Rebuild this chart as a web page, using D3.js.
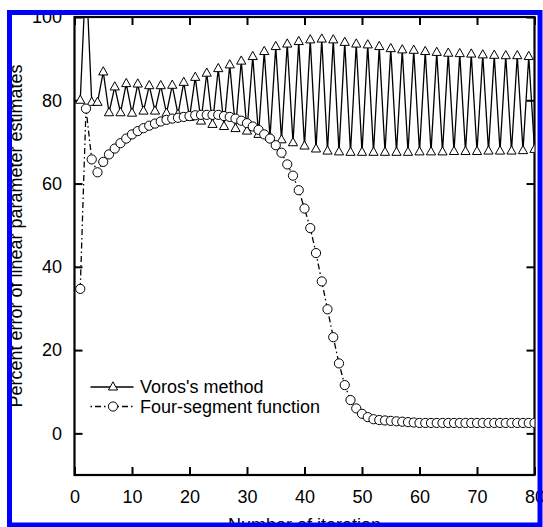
<!DOCTYPE html>
<html>
<head>
<meta charset="utf-8">
<script src="https://cdn.jsdelivr.net/npm/d3@7"></script>
<style>
  html, body { margin: 0; padding: 0; background: #fff; }
  svg { display: block; }
  text { font-family: "Liberation Sans", Arial, sans-serif; fill: #000; }
</style>
</head>
<body>
<svg id="chart" width="543" height="527"></svg>
<script>
// ---------- data ----------
const iterations = [1,2,3,4,5,6,7,8,9,10,11,12,13,14,15,16,17,18,19,20,
  21,22,23,24,25,26,27,28,29,30,31,32,33,34,35,36,37,38,39,40,
  41,42,43,44,45,46,47,48,49,50,51,52,53,54,55,56,57,58,59,60,
  61,62,63,64,65,66,67,68,69,70,71,72,73,74,75,76,77,78,79,80];

const vorosValues = [80.0,111,79.5,79.5,86.8,77.0,83.2,77.0,84.0,76.9,
  83.9,77.4,83.5,77.4,83.5,76.9,83.6,76.6,84.3,75.9,
  85.5,75.0,86.5,74.2,87.6,73.7,88.5,73.2,89.4,72.6,
  90.5,71.8,91.7,71.1,92.9,70.5,93.5,69.8,94.1,69.0,
  94.5,68.3,94.7,67.8,94.5,67.6,93.9,67.5,93.5,67.5,
  93.3,67.5,92.9,67.5,92.4,67.5,92.1,67.5,92.0,67.6,
  91.7,67.6,91.5,67.6,91.3,67.7,91.2,67.7,91.1,67.7,
  90.9,67.8,90.8,67.8,90.7,67.8,90.7,67.9,90.5,68.2];

const fourSegValues = [34.7,78.0,65.8,62.7,65.2,67.0,68.4,69.7,70.8,71.8,
  72.6,73.3,73.9,74.4,74.9,75.3,75.6,75.8,76.0,76.2,
  76.4,76.5,76.5,76.5,76.5,76.2,76.0,75.6,75.1,74.5,
  73.7,72.9,71.8,70.8,69.2,67.4,64.6,61.9,58.4,54.0,
  49.3,43.3,36.5,29.8,23.1,16.8,11.6,8.0,6.0,4.7,
  3.9,3.4,3.2,3.1,3.0,2.9,2.8,2.7,2.6,2.5,
  2.5,2.5,2.5,2.5,2.5,2.5,2.5,2.5,2.5,2.5,
  2.5,2.5,2.5,2.5,2.5,2.5,2.5,2.5,2.5,2.5];

const xTicks = [0,10,20,30,40,50,60,70,80];
const yTicks = [0,20,40,60,80,100];
const seriesNames = ["Voros's method", "Four-segment function"];
const xTitle = "Number of iteration";
const yTitle = "Percent error of linear parameter estimates";

// ---------- layout ----------
const svg = d3.select("#chart");
const X0 = 74.5, X1 = 534.5, Y0 = 475, Y1 = 17;
const x = d3.scaleLinear().domain([0, 80]).range([X0, X1]);
const y = d3.scaleLinear().domain([-10, 100]).range([Y0, Y1]);

svg.append("defs").append("clipPath").attr("id", "plotclip")
  .append("rect").attr("x", X0).attr("y", Y1).attr("width", X1 - X0).attr("height", Y0 - Y1);

const fontSize = 18;

// axes (inward ticks)
const gL = svg.append("g").attr("transform", `translate(${X0},0)`)
  .call(d3.axisLeft(y).tickValues(yTicks).tickSize(-8).tickPadding(12.5).tickFormat(d3.format("d")));
const gB = svg.append("g").attr("transform", `translate(0,${Y0})`)
  .call(d3.axisBottom(x).tickValues(xTicks).tickSize(-8).tickPadding(15).tickFormat(d3.format("d")));
const gT = svg.append("g").attr("transform", `translate(0,${Y1})`)
  .call(d3.axisTop(x).tickValues(xTicks).tickSize(-8).tickFormat(""));
const gR = svg.append("g").attr("transform", `translate(${X1},0)`)
  .call(d3.axisRight(y).tickValues(yTicks).tickSize(-8).tickFormat(""));
[gL, gB, gT, gR].forEach(g => {
  g.select(".domain").remove();
  g.selectAll(".tick line").attr("stroke", "#000").attr("stroke-width", 2);
  g.selectAll(".tick text").attr("font-size", fontSize)
    .attr("font-family", "'Liberation Sans', Arial, sans-serif").attr("fill", "#000");
});

// frame
svg.append("rect").attr("x", X0).attr("y", Y1).attr("width", X1 - X0).attr("height", Y0 - Y1)
  .attr("fill", "none").attr("stroke", "#000").attr("stroke-width", 2.2);

// data
const voros = iterations.map((it, i) => ({ x: it, y: vorosValues[i] }));
const fourSeg = iterations.map((it, i) => ({ x: it, y: fourSegValues[i] }));
const line = d3.line().x(d => x(d.x)).y(d => y(d.y));
const triPath = "M0,-5.2L4.6,3L-4.6,3Z";

const plot = svg.append("g").attr("clip-path", "url(#plotclip)");
plot.append("path").datum(voros).attr("d", line)
  .attr("fill", "none").attr("stroke", "#000").attr("stroke-width", 1.3);
plot.selectAll(".tri").data(voros).enter().append("path")
  .attr("d", triPath).attr("transform", d => `translate(${x(d.x)},${y(d.y)})`)
  .attr("fill", "#fff").attr("stroke", "#000").attr("stroke-width", 1);

plot.append("path").datum(fourSeg).attr("d", line)
  .attr("fill", "none").attr("stroke", "#000").attr("stroke-width", 1.3)
  .attr("stroke-dasharray", "6,3,1.5,3");
plot.selectAll(".circ").data(fourSeg).enter().append("circle")
  .attr("cx", d => x(d.x)).attr("cy", d => y(d.y)).attr("r", 4.6)
  .attr("fill", "#fff").attr("stroke", "#000").attr("stroke-width", 1);

// legend
const lg = svg.append("g");
const legY = [387, 406.5];
lg.append("line").attr("x1", 90.5).attr("x2", 133.5).attr("y1", legY[0]).attr("y2", legY[0])
  .attr("stroke", "#000").attr("stroke-width", 1.3);
lg.append("path").attr("d", triPath).attr("transform", `translate(113,${legY[0]})`)
  .attr("fill", "#fff").attr("stroke", "#000");
lg.append("line").attr("x1", 90.5).attr("x2", 133.5).attr("y1", legY[1]).attr("y2", legY[1])
  .attr("stroke", "#000").attr("stroke-width", 1.3).attr("stroke-dasharray", "1.5,3,6,3");
lg.append("circle").attr("cx", 113).attr("cy", legY[1]).attr("r", 4.6)
  .attr("fill", "#fff").attr("stroke", "#000");
seriesNames.forEach((n, i) => {
  lg.append("text").attr("x", 140).attr("y", legY[i]).attr("dy", "0.36em")
    .attr("font-size", fontSize).text(n);
});

// titles
svg.append("text").attr("x", (X0 + X1) / 2).attr("y", 531).attr("text-anchor", "middle")
  .attr("font-size", fontSize).text(xTitle);
svg.append("text").attr("transform", `translate(22,236) rotate(-90)`).attr("text-anchor", "middle")
  .attr("font-size", fontSize).text(yTitle);

// blue border
svg.append("rect").attr("x", 9.5).attr("y", 12.5).attr("width", 530.5).attr("height", 512.5)
  .attr("fill", "none").attr("stroke", "#0000ff").attr("stroke-width", 5);
</script>
</body>
</html>
